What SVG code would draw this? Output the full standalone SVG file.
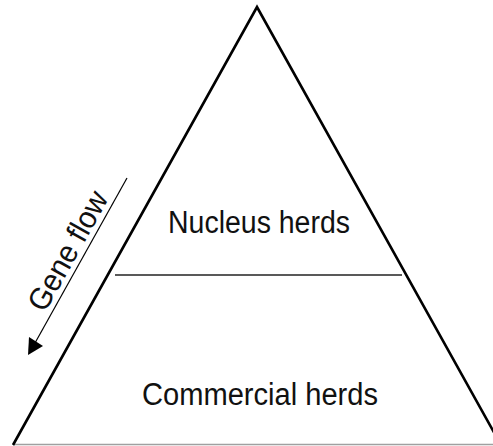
<svg xmlns="http://www.w3.org/2000/svg" width="493" height="446" viewBox="0 0 493 446">
<style>
.lbl{font-family:"Liberation Sans",Arial,sans-serif;font-size:31px;fill:#111;}
</style>
<rect width="493" height="446" fill="#fff"/>
<g id="pyramid">
<line x1="13" y1="444.5" x2="493" y2="444.5" stroke="#a0a0a0" stroke-width="1.5"/>
<polyline points="13,445 257,7 501,445" fill="none" stroke="#000" stroke-width="2.6" stroke-linejoin="miter"/>
</g>
<g id="divider">
<line x1="115" y1="275" x2="402" y2="275" stroke="#222" stroke-width="1.5"/>
</g>
<g id="nucleus">
<text class="lbl" x="168" y="233" textLength="182" lengthAdjust="spacingAndGlyphs">Nucleus herds</text>
</g>
<g id="commercial">
<text class="lbl" x="142" y="405" textLength="236" lengthAdjust="spacingAndGlyphs">Commercial herds</text>
</g>
<g id="connectors">
<line x1="127" y1="178" x2="35" y2="343" stroke="#000" stroke-width="1.2"/>
<path d="M28,355 L29,337 L43,346 Z" fill="#000"/>
</g>
<g id="geneflow">
<text class="lbl" x="-66" y="0" textLength="132" lengthAdjust="spacingAndGlyphs" transform="translate(77,256) rotate(-60.8)">Gene flow</text>
</g>
</svg>
